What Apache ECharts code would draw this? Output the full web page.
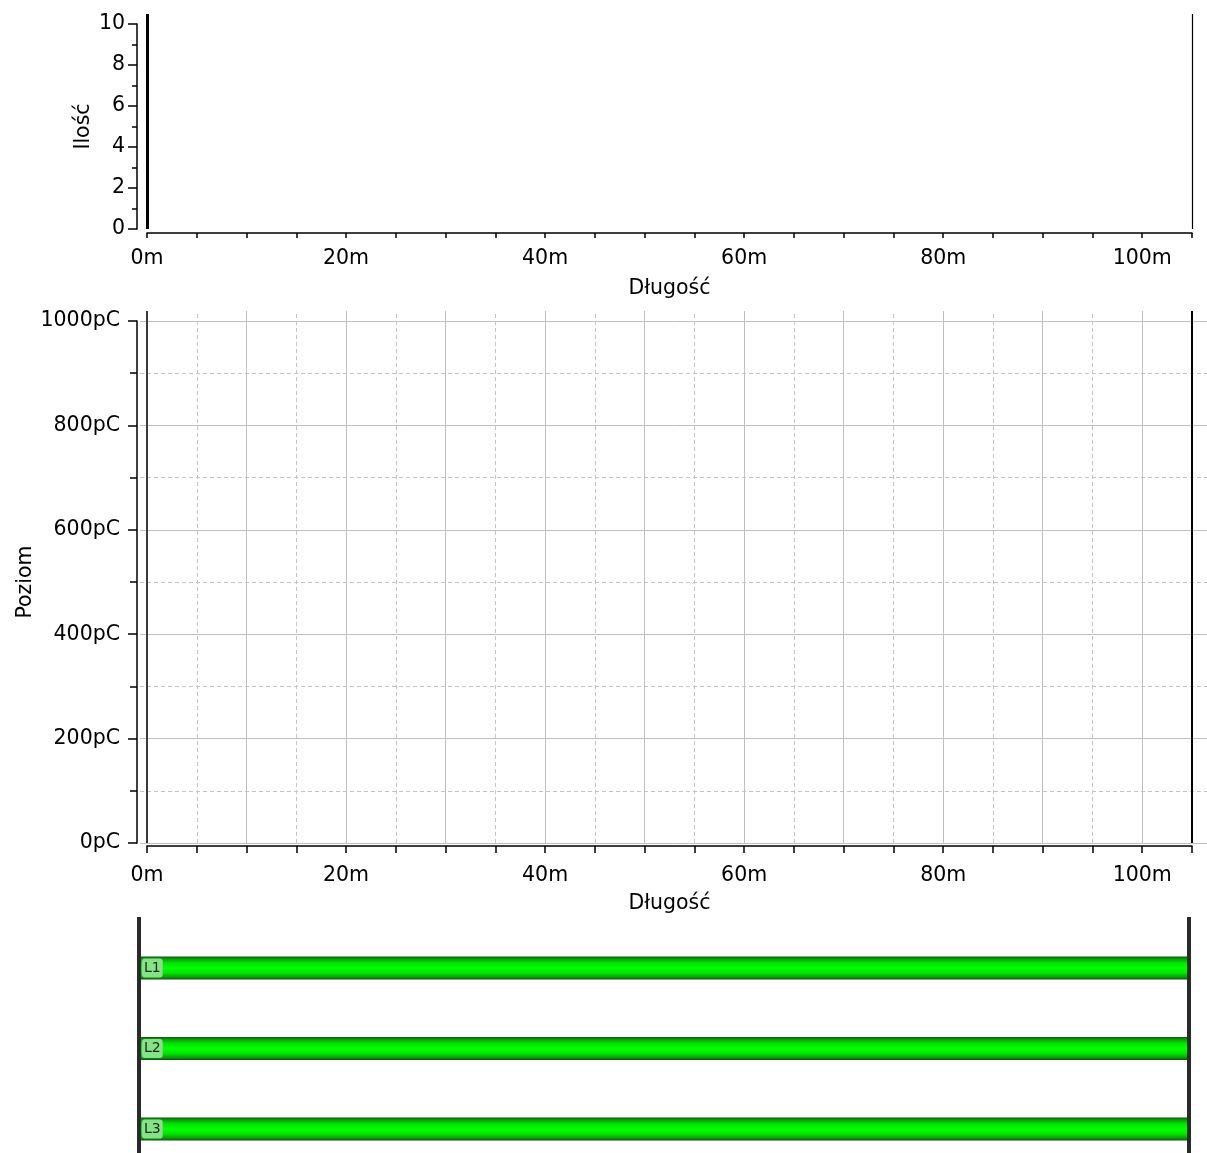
<!DOCTYPE html>
<html><head><meta charset="utf-8">
<script src="https://cdn.jsdelivr.net/npm/echarts@6/dist/echarts.min.js"></script>
<style>html,body{margin:0;padding:0;background:#fff}#c{width:1207px;height:1153px}</style>
</head><body><div id="c"></div>
<script>
// ---- data ----
const lengthRange = [0, 105];                 // cable length (m)
const countRange = [0, 10];                   // Ilość
const levelRange = [0, 1000];                 // Poziom (pC)
const histogramCounts = [];                   // no pulses recorded
const levelPoints = [];                       // no discharge points
const cableMarkers = [0, 105];                // cable start / end (m)
const phases = ['L1', 'L2', 'L3'];
const phaseLengths = [105, 105, 105];
const xGridSolid = [10, 20, 30, 40, 50, 60, 70, 80, 90, 100];
const xGridDashed = [5, 15, 25, 35, 45, 55, 65, 75, 85, 95];
const yGridSolid = [0, 200, 400, 600, 800, 1000];
const yGridDashed = [100, 300, 500, 700, 900];
const xLabelStep = 20;

// ---- layout ----
const W = 1207, H = 1153;
const plotL = 147, plotR = 1192;
const FONT = 'DejaVu Sans';
const pxPerM = (plotR - plotL) / (lengthRange[1] - lengthRange[0]);
const canvasL = 140, canvasR = 1207;
const midTop = 321, midBottom = 843, midCanvasTop = 311;

const chart = echarts.init(document.getElementById('c'), null, {renderer: 'canvas'});
const txt = {fontFamily: FONT, fontSize: 20.5, color: '#000'};
const axisLine = {show: true, onZero: false, lineStyle: {color: '#000', width: 1.5}};
const xFmt = v => (v % xLabelStep === 0 ? v + 'm' : '');
const hiddenAxis = (grid, min, max) => ({gridIndex: grid, type: 'value', min, max, show: false});
const ml = (lines) => ({symbol: ['none', 'none'], silent: true, animation: false, label: {show: false}, emphasis: {disabled: true}, data: lines});

const gridLines = []
  .concat(yGridSolid.map(v => ({yAxis: v, lineStyle: {color: '#c0c0c0', width: 1, type: 'solid'}})))
  .concat(yGridDashed.map(v => ({yAxis: v, lineStyle: {color: '#c4c4c4', width: 1, type: [4, 3]}})))
  .concat(xGridSolid.map(v => ({xAxis: v, lineStyle: {color: '#c0c0c0', width: 1, type: 'solid'}})))
  .concat(xGridDashed.map(v => ({xAxis: v, lineStyle: {color: '#c4c4c4', width: 1, type: [4, 3]}})))
  .concat([
    {xAxis: cableMarkers[0], lineStyle: {color: '#3a3a3a', width: 2, type: 'solid'}},
    {xAxis: cableMarkers[1], lineStyle: {color: '#000', width: 2, type: 'solid'}}
  ]);

const barGradient = new echarts.graphic.LinearGradient(0, 0, 0, 1, [
  {offset: 0, color: '#0d560d'},
  {offset: 0.1, color: '#0b9a0b'},
  {offset: 0.28, color: '#00e400'},
  {offset: 0.5, color: '#00ff00'},
  {offset: 0.72, color: '#00e400'},
  {offset: 0.9, color: '#0b9a0b'},
  {offset: 1, color: '#0d500d'}
]);

const option = {
  animation: false,
  backgroundColor: '#fff',
  grid: [
    {left: plotL, right: W - plotR, top: 24, bottom: H - 229},                 // 0 top axes
    {left: plotL, right: W - plotR, top: 14, bottom: H - 229},                 // 1 top canvas
    {left: plotL, right: W - plotR, top: midTop, bottom: H - midBottom},        // 2 middle axes
    {left: canvasL, right: W - canvasR, top: midCanvasTop, bottom: H - midBottom}, // 3 middle canvas
    {left: 139, right: W - 1189, top: 917, bottom: 0},                         // 4 cable ends
    {left: 139, right: W - 1189, top: 968, bottom: H - 1129}                   // 5 phases
  ],
  xAxis: [
    {gridIndex: 0, type: 'value', min: lengthRange[0], max: lengthRange[1], interval: 5, offset: 4,
     name: 'Długość', nameLocation: 'middle', nameGap: 45, nameMoveOverlap: false, nameTextStyle: txt,
     axisLine, axisTick: {show: true, length: 5, lineStyle: {color: '#000', width: 1.5}},
     axisLabel: Object.assign({margin: 15, formatter: xFmt}, txt), splitLine: {show: false}},
    hiddenAxis(1, lengthRange[0], lengthRange[1]),
    {gridIndex: 2, type: 'value', min: lengthRange[0], max: lengthRange[1], interval: 5, offset: 3,
     name: 'Długość', nameLocation: 'middle', nameGap: 47, nameMoveOverlap: false, nameTextStyle: txt,
     axisLine, axisTick: {show: true, length: 7, lineStyle: {color: '#000', width: 1.5}},
     axisLabel: Object.assign({margin: 19, formatter: xFmt}, txt), splitLine: {show: false}},
    hiddenAxis(3, lengthRange[0] - (plotL - canvasL) / pxPerM, lengthRange[1] + (canvasR - plotR) / pxPerM),
    hiddenAxis(4, lengthRange[0], lengthRange[1]),
    hiddenAxis(5, lengthRange[0], lengthRange[1])
  ],
  yAxis: [
    {gridIndex: 0, type: 'value', min: countRange[0], max: countRange[1], interval: 2, offset: 10,
     name: 'Ilość', nameLocation: 'middle', nameRotate: 90, nameGap: 43, nameMoveOverlap: false, nameTextStyle: txt,
     axisLine, axisTick: {show: true, length: 9, lineStyle: {color: '#000', width: 1.5}},
     minorTick: {show: true, splitNumber: 2, length: 5, lineStyle: {color: '#000', width: 1.5}},
     axisLabel: Object.assign({margin: 12}, txt), splitLine: {show: false}},
    hiddenAxis(1, countRange[0], countRange[1]),
    {gridIndex: 2, type: 'value', min: levelRange[0], max: levelRange[1], interval: 200, offset: 10,
     name: 'Poziom', nameLocation: 'middle', nameRotate: 90, nameGap: 101, nameMoveOverlap: false, nameTextStyle: txt,
     axisLine, axisTick: {show: true, length: 9, lineStyle: {color: '#000', width: 1.5}},
     minorTick: {show: true, splitNumber: 2, length: 7, lineStyle: {color: '#000', width: 1.5}},
     axisLabel: Object.assign({margin: 17, formatter: v => v + 'pC'}, txt), splitLine: {show: false}},
    hiddenAxis(3, levelRange[0], levelRange[1] * (midBottom - midCanvasTop) / (midBottom - midTop)),
    hiddenAxis(4, 0, 1),
    {gridIndex: 5, type: 'category', data: phases, inverse: true, boundaryGap: false, show: false}
  ],
  series: [
    {type: 'bar', xAxisIndex: 0, yAxisIndex: 0, data: histogramCounts, itemStyle: {color: '#000'}},
    {type: 'line', xAxisIndex: 1, yAxisIndex: 1, data: [], z: 5,
     markLine: ml([
       {xAxis: cableMarkers[0], lineStyle: {color: '#000', width: 3, type: 'solid'}},
       {xAxis: cableMarkers[1], lineStyle: {color: '#000', width: 1.2, type: 'solid'}}
     ])},
    {type: 'scatter', xAxisIndex: 2, yAxisIndex: 2, data: levelPoints},
    {type: 'line', xAxisIndex: 3, yAxisIndex: 3, data: [], z: 1, markLine: ml(gridLines)},
    {type: 'bar', xAxisIndex: 5, yAxisIndex: 5, data: phaseLengths, barWidth: 23, z: 2,
     itemStyle: {color: barGradient},
     label: {show: true, position: 'insideLeft', distance: 3, formatter: '{b}',
       fontFamily: FONT, fontSize: 14, color: '#1a2a1a', backgroundColor: '#86e286',
       borderRadius: 3, padding: [3, 2, 2, 2]}},
    {type: 'line', xAxisIndex: 4, yAxisIndex: 4, data: [], z: 6,
     markLine: ml(cableMarkers.map(v => ({xAxis: v, lineStyle: {color: '#2a2a2a', width: 4, type: 'solid'}})))}
  ]
};
chart.setOption(option);
</script>
</body></html>
